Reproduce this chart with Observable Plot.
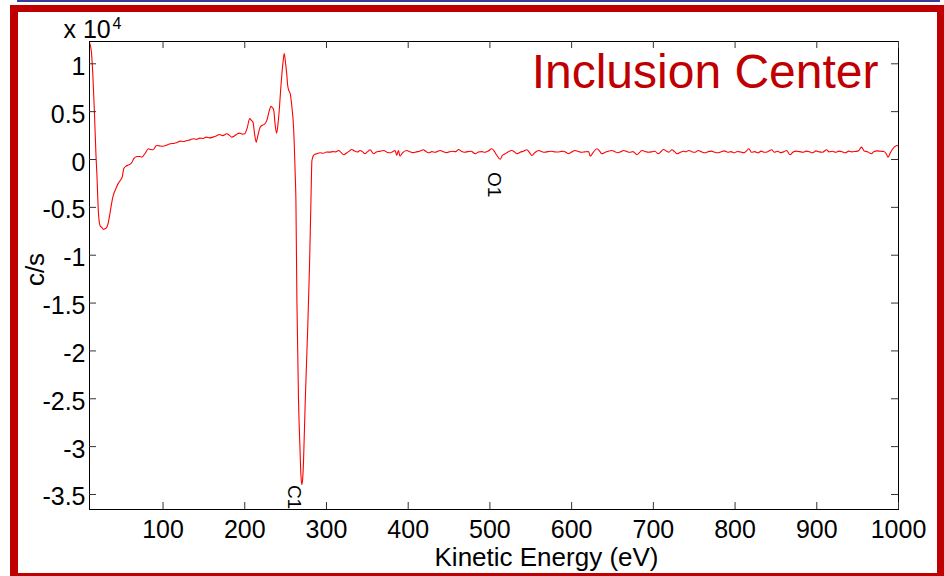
<!DOCTYPE html>
<html>
<head>
<meta charset="utf-8">
<script src="https://cdn.jsdelivr.net/npm/d3@7"></script>
<script src="https://cdn.jsdelivr.net/npm/@observablehq/plot@0.6"></script>
<style>
  html, body { margin: 0; padding: 0; background: #fff; overflow: hidden; }
  #wrap { position: relative; width: 944px; height: 576px; overflow: hidden; }
  #wrap svg { position: absolute; left: 0; top: 0; }
  #frame { position: absolute; left: 10px; top: 5px; width: 934px; height: 575px;
           box-sizing: border-box; border: 7px solid #c00000; border-left-width: 8px; }
  #topline { position: absolute; left: 17px; top: 0; width: 923px; height: 2px; background: #3c3c96; }
</style>
</head>
<body>
<div id="wrap"><div id="topline"></div></div>
<script>
// ---- data (kinetic energy in eV, signal in c/s) ----
const energyLow = [10,12,14,16,18,19,21,23,25,27,29,31,33,35,37,39,42,45,48,50,
  52,55,58,62,64,68,71,74,78,82,85,88,92,96,100,104,109,114,118,121,
  125,129,133,137,141,145,149,153,157,161,165,169,173,178,181,184,188,191,194,197,200];
const cpsLow = [12200,11500,9000,5000,300,-1470,-5660,-6920,-7100,-7300,
  -7230,-7100,-6600,-5660,-4600,-3770,-3100,-2520,-2150,-1850,
  -940,-680,-560,-280,70,310,320,240,630,1120,
  1050,1020,1470,1420,1390,1480,1650,1700,1820,1920,
  1880,1990,2050,2170,2100,2230,2200,2340,2260,2340,
  2450,2620,2500,2690,2550,2340,2500,2680,2760,2650,2690];

const energyAuger = [203,206,208,210,212,214,216,219,222,224,
  227,230,232,234,235.5,237,239,241,242.5,244,
  245.5,247,248.3,250,251.3,252.5,254,255.6,257.7,259.7,
  261.7,262.6,263.8,265.8,267.5,268.7,269.9,271,271.9,274,
  276.8,279.2,281,282.2,284.1,286,288.3];
const cpsAuger = [3300,4270,4100,3910,2700,1810,2500,3390,3600,3670,
  4090,5100,5550,5400,5140,3800,2760,4000,5480,7400,
  9010,10300,11080,10000,9000,7760,7200,6890,5480,3390,
  -1470,-4300,-14780,-25260,-30000,-32900,-33960,-33200,-31540,-25260,
  -18230,-11290,-4300,-100,420,560,600];

const energyFlat = [
  292,296,300,304,308,311,315,318,321,325,
  328,331,334,338,341,344,347,350,353.5,357.6,
  361,365,370,374,378,381,384,386,388,390,
  393,398,402,406,410,414,418.7,421,425,429,
  433,436,439,443,447,450,454,458,461.6,465,
  469,473,477,482,486,490,494,498,502.4,505,
  508,512.6,515,518.7,522,526.9,530,533,537,541,
  545.3,548,551.4,555,559.5,563,567,571,575,579,
  583,587,590,593,596,600,604,608,612,616,
  620.7,622.8,626,631,634,637,641,645,649,653,
  656,660,663.5,667,671,675,680,683,686,690,
  694,698,702,706,709,712.4,716,719,722.7,726,
  729,733,737,740,743,747,751,755,759,763,
  767,771,775,779,783,787,791,795,799,803,
  807,811,814,817,820,824,828,832,836,840,
  844.8,848,852,856,860,863,867.3,871,875,879,
  883,887,891,895,899,903,907,912,915,919,
  923,927,931,935,939,943,947,951,954.6,958,
  962,967,970,974,978,982,985,987.2,990,994.7,
  998,1000];
const cpsFlat = [
  700,660,780,770,820,800,943,720,493,700,
  880,1048,900,780,943,820,597,800,1017,597,
  780,850,943,760,700,820,943,419,943,346,
  700,943,820,720,800,870,1017,880,702,820,
  760,850,943,820,720,800,870,820,1048,860,
  760,820,870,597,780,820,760,900,1121,900,
  500,30,400,597,780,943,800,597,760,870,
  1017,780,419,720,943,840,760,820,870,800,
  780,840,870,760,597,780,943,840,760,800,
  838,346,700,1121,900,597,760,870,943,820,
  700,800,943,850,760,820,493,720,943,840,
  760,800,870,597,800,1048,880,760,1017,820,
  597,760,870,800,943,820,760,943,800,700,
  820,880,760,700,820,900,760,820,700,840,
  780,700,900,1121,760,820,700,880,760,820,
  1017,760,860,720,820,940,493,780,880,820,
  760,880,820,700,900,800,760,1017,800,860,
  760,880,820,700,880,800,840,900,1290,900,
  820,597,840,900,860,840,600,241,700,1290,
  1467,1400];

const peakNames = ["C1", "O1"];
const peakEnergy = [270, 514];
const peakCps = [-34000, -1300];

const xTicks = [100, 200, 300, 400, 500, 600, 700, 800, 900, 1000];
const yTicks = [10000, 5000, 0, -5000, -10000, -15000, -20000, -25000, -30000, -35000];

const titleText = "Inclusion Center";
const xLabel = "Kinetic Energy (eV)";
const yLabel = "c/s";
const expBase = "x 10";
const expPower = "4";

// ---- build ----
const energy = [...energyLow, ...energyAuger, ...energyFlat];
const cps = [...cpsLow, ...cpsAuger, ...cpsFlat];
if (energy.length !== cps.length) console.error("length mismatch", energy.length, cps.length);
const spectrum = energy.map((e, i) => ({e, c: cps[i]}));
const peaks = peakNames.map((n, i) => ({n, e: peakEnergy[i], c: peakCps[i]}));

const W = 944, H = 576;
const mL = 89, mR = 46, mT = 41, mB = 67;
const plotW = W - mL - mR, plotH = H - mT - mB;
const tickLen = 7;
const FONT = "Arial, 'Liberation Sans', Helvetica, sans-serif";

const chart = Plot.plot({
  width: W, height: H,
  marginLeft: mL, marginRight: mR, marginTop: mT, marginBottom: mB,
  style: {fontFamily: FONT, background: "transparent", color: "#000", overflow: "visible"},
  x: {domain: [10, 1000]},
  y: {domain: [-36570, 12330]},
  marks: [
    Plot.line(spectrum, {x: "e", y: "c", stroke: "#ff0000", strokeWidth: 1.1, curve: "monotone-x"}),
    Plot.frame({stroke: "#000", strokeWidth: 1}),
    Plot.tickY(yTicks, {y: d => d, insetRight: plotW - tickLen, stroke: "#333"}),
    Plot.tickY(yTicks, {y: d => d, insetLeft: plotW - tickLen, stroke: "#333"}),
    Plot.tickX(xTicks, {x: d => d, insetTop: plotH - tickLen, stroke: "#333"}),
    Plot.tickX(xTicks, {x: d => d, insetBottom: plotH - tickLen, stroke: "#333"}),
    Plot.axisX({ticks: xTicks, tickSize: 0, tickPadding: 11, fontSize: 25, label: null,
                tickFormat: d => String(d)}),
    Plot.axisY({ticks: yTicks, tickSize: 0, tickPadding: 4, fontSize: 25, label: null, dy: 3,
                tickFormat: d => String(d / 1e4)}),
    Plot.text(peaks, {x: "e", y: "c", text: "n", rotate: 90, textAnchor: "start",
                      lineAnchor: "top", fontSize: 19, fill: "#000"}),
    Plot.text([titleText], {frameAnchor: "top-right", text: d => d, textAnchor: "end",
                            lineAnchor: "bottom", dx: -20, dy: 46, fontSize: 48, fill: "#c00000"}),
    Plot.text([xLabel], {frameAnchor: "bottom-left", text: d => d, textAnchor: "middle",
                         lineAnchor: "bottom", dx: 457, dy: 56, fontSize: 26, fill: "#000"}),
    Plot.text([yLabel], {frameAnchor: "left", text: d => d, rotate: -90, textAnchor: "middle",
                         lineAnchor: "middle", dx: -54, dy: -6, fontSize: 26, fill: "#000"}),
    Plot.text([expBase], {frameAnchor: "top-left", text: d => d, textAnchor: "start",
                          lineAnchor: "bottom", dx: -26, dy: -4, fontSize: 25, fill: "#000"}),
    Plot.text([expPower], {frameAnchor: "top-left", text: d => d, textAnchor: "start",
                           lineAnchor: "bottom", dx: 23, dy: -13, fontSize: 16, fill: "#000"})
  ]
});
const wrap = document.getElementById("wrap");
wrap.insertBefore(chart, wrap.firstChild);
const frame = document.createElement("div");
frame.id = "frame";
wrap.appendChild(frame);
</script>
</body>
</html>
